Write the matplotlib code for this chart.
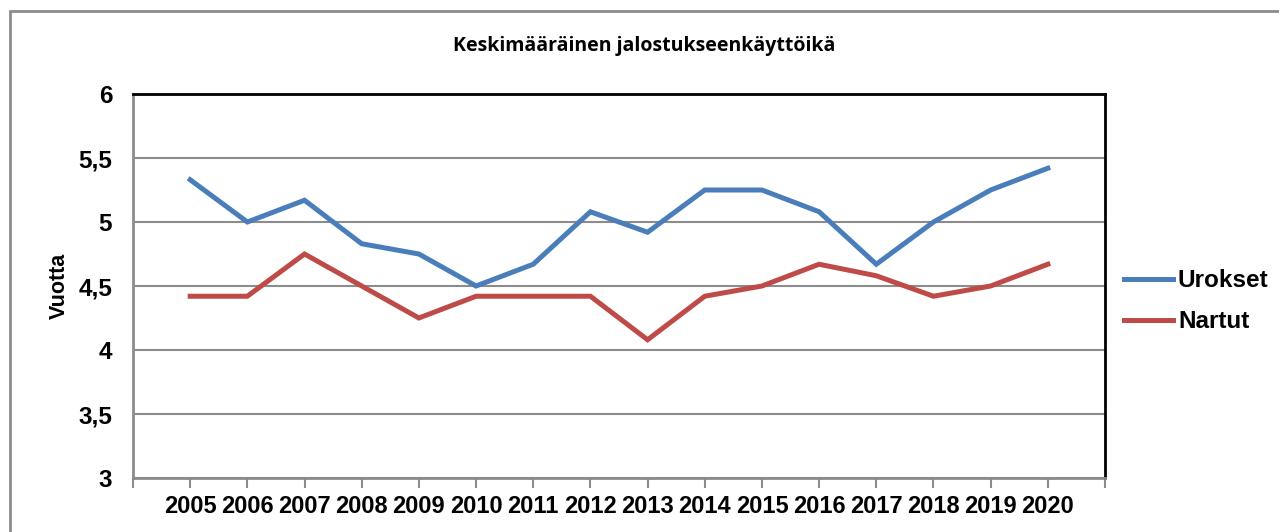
import matplotlib.pyplot as plt
from matplotlib.patches import Rectangle

vuodet = ['2005', '2006', '2007', '2008', '2009', '2010', '2011', '2012',
          '2013', '2014', '2015', '2016', '2017', '2018', '2019', '2020']
urokset = [5.33, 5.00, 5.17, 4.83, 4.75, 4.50, 4.67, 5.08,
           4.92, 5.25, 5.25, 5.08, 4.67, 5.00, 5.25, 5.42]
nartut = [4.42, 4.42, 4.75, 4.50, 4.25, 4.42, 4.42, 4.42,
          4.08, 4.42, 4.50, 4.67, 4.58, 4.42, 4.50, 4.67]

plt.rcParams['font.family'] = ['Liberation Sans', 'DejaVu Sans']

fig = plt.figure(figsize=(12.79, 5.32), dpi=100)
ax = fig.add_axes([133/1279, 54/532, 972/1279, 384/532])

# ulkoreunus
fig.patches.append(Rectangle((10/1279, -0.05), 1.1, (532-11)/532 + 0.05,
                             transform=fig.transFigure, fill=False,
                             edgecolor='#8c8c8c', linewidth=2))

x = list(range(len(vuodet)))
ax.plot(x, urokset, color='#4a7ebb', linewidth=3.6, label='Urokset',
        solid_joinstyle='miter')
ax.plot(x, nartut, color='#be4b48', linewidth=3.6, label='Nartut',
        solid_joinstyle='miter')

ax.set_xlim(-1, len(vuodet))
ax.set_ylim(3, 6)
ax.set_yticks([3, 3.5, 4, 4.5, 5, 5.5, 6])
ax.set_yticklabels(['3', '3,5', '4', '4,5', '5', '5,5', '6'],
                   fontsize=17.5, fontweight='bold')
ax.set_xticks(range(-1, len(vuodet) + 1))
ax.set_xticklabels([''] + vuodet + [''], fontsize=17, fontweight='bold')
ax.tick_params(axis='x', length=7, width=1.5, color='#8c8c8c', pad=5)
ax.tick_params(axis='y', length=0, pad=15)
ax.yaxis.grid(True, color='#8c8c8c', linewidth=1.5)
ax.set_axisbelow(True)

for s in ['left', 'bottom']:
    ax.spines[s].set_color('#8c8c8c')
    ax.spines[s].set_linewidth(2)
for s in ['top', 'right']:
    ax.spines[s].set_color('black')
    ax.spines[s].set_linewidth(2)

ax.set_ylabel('Vuotta', fontsize=15.5, fontweight='bold', labelpad=6)
fig.text(644/1279, 1 - 46/532, 'Keskimääräinen jalostukseenkäyttöikä',
         ha='center', va='center', fontsize=14, fontweight='bold',
         family=['Open Sans', 'DejaVu Sans'])

ax.legend(loc='center left', bbox_to_anchor=(1.0, 0.46), frameon=False,
          prop={'size': 17.5, 'weight': 'bold'}, handlelength=2.0,
          handletextpad=0.2, labelspacing=0.75, borderpad=0.3)

fig.savefig('out.png', dpi=100)
